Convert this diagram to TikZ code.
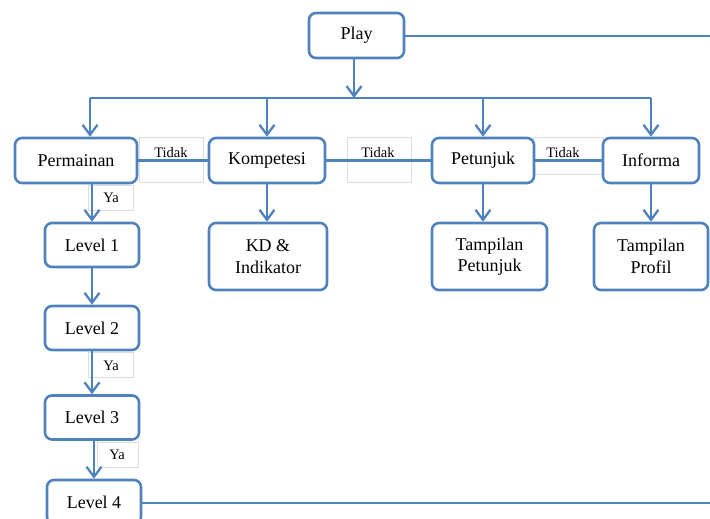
\documentclass[tikz,border=0pt]{standalone}
\usepackage{fontspec}
\setmainfont{Liberation Serif}
\usepackage{tikz}
\usetikzlibrary{arrows.meta}
\definecolor{flowblue}{HTML}{4F81BD}
\definecolor{tagline}{HTML}{DCDCDC}

\begin{document}
\begin{tikzpicture}[x=1pt, y=-1pt,
    box/.style={rectangle, rounded corners=7pt, draw=flowblue, line width=2.6pt,
                fill=white, minimum height=45pt, inner sep=0pt,
                font=\fontsize{18}{21.5}\selectfont},
    tallbox/.style={box, minimum height=67pt, align=center},
    flow/.style={-{Straight Barb[length=10pt, width=15pt]}, line width=2.3pt, color=flowblue},
    link/.style={line width=2.3pt, color=flowblue},
    tag/.style={rectangle, draw=tagline, line width=0.9pt, fill=white, inner sep=0pt},
    tagtext/.style={font=\fontsize{14.5}{17}\selectfont, inner sep=0pt}
  ]
    \useasboundingbox (0,0) rectangle (710,519);

    % Label boxes, behind the lines
    \node[tag, minimum width=64pt, minimum height=45pt] (tagA) at (171,159.5) {};
    \node[tag, minimum width=64pt, minimum height=45pt] (tagB) at (379,159.5) {};
    \node[tag, minimum width=70pt, minimum height=37pt] (tagC) at (568,155.5) {};
    \node[tag, minimum width=45pt, minimum height=25pt] (tagD) at (110.5,197.5) {};
    \node[tag, minimum width=45pt, minimum height=25pt] (tagE) at (110.5,364.5) {};
    \node[tag, minimum width=41pt, minimum height=25pt] (tagF) at (117.5,454.5) {};
    \node[tagtext] (tidakA) at (171,153) {Tidak};
    \node[tagtext] (tidakB) at (378,153) {Tidak};
    \node[tagtext] (tidakC) at (563,153) {Tidak};
    \node[tagtext] (yaA) at (111,198) {Ya};
    \node[tagtext] (yaB) at (111,366) {Ya};
    \node[tagtext] (yaC) at (117,455) {Ya};

    % Menu boxes
    \node[box, minimum width=95pt] (play) at (356.5,35.5) {Play};
    \node[box, minimum width=122pt] (perm) at (76,160.5) {Permainan};
    \node[box, minimum width=116pt] (komp) at (267,160.5) {Kompetesi};
    \node[box, minimum width=102pt] (petu) at (483,160.5) {Petunjuk};
    \node[box, minimum width=96pt] (info) at (651,160.5) {Informa};
    \node[tallbox, minimum width=118pt] (kd) at (268,256.5) {KD \&\\Indikator};
    \node[tallbox, minimum width=115pt] (tpet) at (489.5,256.5) {Tampilan\\Petunjuk};
    \node[tallbox, minimum width=114pt] (tpro) at (651,256.5) {Tampilan\\Profil};
    \node[box, minimum width=94pt, minimum height=44pt] (lv1) at (92,245) {Level 1};
    \node[box, minimum width=94pt, minimum height=44pt] (lv2) at (92,328) {Level 2};
    \node[box, minimum width=94pt, minimum height=44pt] (lv3) at (92,417.5) {Level 3};
    \node[box, minimum width=94pt, minimum height=44pt] (lv4) at (94,502) {Level 4};

    % Lines
    \coordinate (edgeA) at (710,36);
    \coordinate (edgeB) at (710,503);
    \coordinate (busL) at (90,98);
    \coordinate (busR) at (651,98);
    \draw[link] (play.east |- edgeA) -- (edgeA);
    \draw[flow] (play.south -| 354,0) -- (busL -| 354,0);
    \draw[link] (busL) -- (busR);
    \draw[flow] (busL) -- (busL |- perm.north);
    \draw[flow] (busL -| komp.north) -- (komp.north);
    \draw[flow] (busL -| petu.north) -- (petu.north);
    \draw[flow] (busR) -- (busR |- info.north);
    \draw[link] (perm) -- (komp);
    \draw[link] (komp) -- (petu);
    \draw[link] (petu) -- (info);
    \draw[flow] (komp.south) -- (komp.south |- kd.north);
    \draw[flow] (petu.south) -- (petu.south |- tpet.north);
    \draw[flow] (info.south) -- (info.south |- tpro.north);
    \draw[flow] (perm.south -| lv1) -- (lv1.north);
    \draw[flow] (lv1) -- (lv2);
    \draw[flow] (lv2) -- (lv3);
    \draw[flow] (lv3.south -| lv4) -- (lv4.north);
    \draw[link] (lv4.east |- edgeB) -- (edgeB);
  \end{tikzpicture}
\end{document}
